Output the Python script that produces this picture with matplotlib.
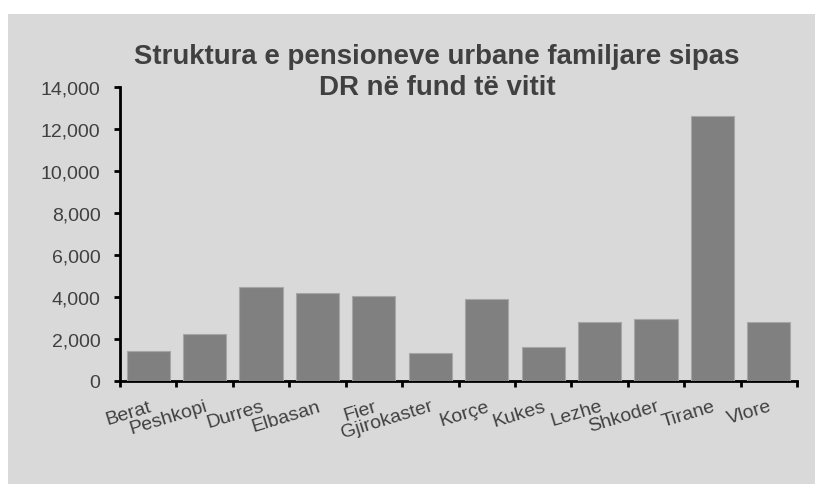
import numpy as np
import matplotlib
matplotlib.use("Agg")
import matplotlib.pyplot as plt
import matplotlib.patches as mpatches
from matplotlib.ticker import StrMethodFormatter

# ── Colors ────────────────────────────────────────────────
BG_COLOR = "#d9d9d9"
BAR_COLOR = "#808080"
BAR_EDGE = "#a6a6a6"
TEXT_COLOR = "#404040"

# ── Data ──────────────────────────────────────────────────
districts = ["Berat", "Peshkopi", "Durres", "Elbasan", "Fier", "Gjirokaster",
             "Korçe", "Kukes", "Lezhe", "Shkoder", "Tirane", "Vlore"]
pensions = [1420, 2230, 4490, 4170, 4030, 1300, 3880, 1600, 2800, 2950, 12640, 2810]
y_ticks = [0, 2000, 4000, 6000, 8000, 10000, 12000, 14000]

plt.rcParams.update({
    "font.family": ["Liberation Sans", "DejaVu Sans"],
    "font.size": 14,
    "text.color": TEXT_COLOR,
})

fig = plt.figure(figsize=(8.15, 4.85), dpi=100)
fig.patch.set_facecolor("white")
# grey chart area, white strip on top and left
fig.patches.append(mpatches.Rectangle((8 / 815, 0), 1 - 8 / 815, 1 - 15 / 485,
                                      transform=fig.transFigure, facecolor=BG_COLOR,
                                      edgecolor="none", zorder=-5))

ax = fig.add_axes([120 / 815, 1 - 381.7 / 485, 677 / 815, 293.7 / 485])
ax.set_facecolor("none")

x = np.arange(len(districts))
ax.bar(x, pensions, width=0.765, color=BAR_COLOR, edgecolor=BAR_EDGE, linewidth=0.8, zorder=3)

ax.set_xlim(-0.5, len(districts) - 0.5)
ax.set_ylim(0, 14000)
ax.set_yticks(y_ticks)
ax.yaxis.set_major_formatter(StrMethodFormatter("{x:,.0f}"))

# tick marks between categories, labels at the centres
ax.set_xticks(np.arange(len(districts) + 1) - 0.5)
ax.set_xticklabels([])
ax.set_xticks(x, minor=True)
ax.set_xticklabels(districts, minor=True, rotation=17, ha="right", va="top",
                   rotation_mode="anchor")
ax.tick_params(axis="x", which="major", direction="out", length=4.5, width=2, color="black")
ax.tick_params(axis="x", which="minor", length=0, pad=12, labelsize=14, labelcolor=TEXT_COLOR)
ax.tick_params(axis="y", direction="out", length=4, width=2, color="black", pad=10,
               labelsize=14, labelcolor=TEXT_COLOR)

for side in ["top", "right"]:
    ax.spines[side].set_visible(False)
for side in ["left", "bottom"]:
    ax.spines[side].set_linewidth(2)
    ax.spines[side].set_color("black")

fig.text(0.536, 1 - 72.5 / 485, "Struktura e pensioneve urbane familjare sipas\nDR në fund të vitit",
         ha="center", va="center", fontsize=19.9, fontweight="bold", color=TEXT_COLOR,
         linespacing=1.25)

fig.savefig("out.png", dpi=100, facecolor="white")
